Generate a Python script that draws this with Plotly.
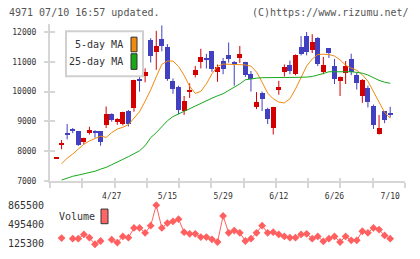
import plotly.graph_objects as go
import numpy as np

# ---------------- data ----------------
dates = ["4/13","4/14","4/15","4/16","4/17","4/20","4/21","4/22","4/23","4/24",
         "4/27","4/28","4/30","5/1","5/7","5/8","5/11","5/12","5/13","5/14",
         "5/15","5/18","5/19","5/20","5/21","5/22","5/25","5/26","5/27","5/28",
         "5/29","6/1","6/2","6/3","6/4","6/5","6/8","6/9","6/10","6/11",
         "6/12","6/15","6/16","6/17","6/18","6/19","6/22","6/23","6/24","6/25",
         "6/26","6/29","6/30","7/1","7/2","7/3","7/6","7/7","7/8","7/9","7/10"]

open_ = [7740, 8200, 8570, 8700, 8645, 8283, 8580, 8650, 8645, 8852,
         9247, 8964, 8885, 9325, 9435, 10420, 10497, 11721, 11306, 11770,
         11500, 10356, 10125, 9345, 9985, 10553, 10974, 11090, 11359, 10642,
         11030, 11211, 10958, 11113, 10970, 10586, 9457, 9928, 9402, 8756,
         10037, 10662, 10882, 10564, 11500, 11869, 11380, 11800, 10662, 11464,
         10849, 10333, 10619, 11080, 10553, 9840, 10092, 9490, 8556, 9325, 9280]
high = [7760, 8370, 8908, 8776, 8668, 8450, 8820, 8700, 8670, 9500,
        9270, 9106, 9325, 9380, 10400, 10590, 10784, 11800, 12050, 12230,
        11600, 10444, 10200, 9853, 10280, 10860, 11441, 11270, 11370, 10915,
        11135, 11655, 11030, 11540, 11004, 10695, 9984, 10004, 9457, 9490,
        10366, 10915, 11047, 11255, 11870, 12010, 11935, 11835, 11168, 11470,
        11102, 10511, 11030, 11277, 10642, 10421, 10202, 9566, 9214, 9346, 9490]
low = [7740, 8060, 8392, 8602, 8174, 8227, 8556, 8450, 8180, 8776,
       8990, 8885, 8865, 8830, 9325, 10000, 10313, 10980, 10734, 11359,
       10366, 9928, 9237, 9215, 9787, 10478, 10783, 10780, 10668, 10333,
       10586, 10977, 10200, 10970, 10497, 10004, 9412, 9346, 8908, 8556,
       9895, 10510, 10586, 10553, 11220, 11223, 11300, 10860, 10586, 11135,
       10257, 9853, 10257, 10553, 10070, 9622, 9467, 8743, 8556, 8940, 9128]
close = [7760, 8267, 8550, 8680, 8194, 8415, 8690, 8610, 8306, 9247,
         9017, 9073, 9303, 8885, 10390, 10340, 10641, 11174, 11523, 11523,
         10421, 10070, 9378, 9655, 10037, 10718, 11149, 11070, 10734, 10806,
         10734, 11080, 10920, 11245, 10553, 10398, 9632, 9742, 9050, 9457,
         10125, 10806, 10695, 11211, 11255, 11321, 11660, 10900, 10882, 11277,
         10399, 10478, 10849, 10662, 10290, 10366, 9622, 8852, 8776, 9017, 9210]

ma5 = [None, 7573, 7760, 7900, 8060, 8230, 8340, 8430, 8500, 8460,
       8620, 8740, 8800, 8890, 9105, 9325, 9680, 10060, 10500, 10920,
       11030, 11030, 10850, 10550, 10180, 9940, 10010, 10260, 10600, 10850,
       10930, 10920, 10920, 10920, 10900, 10860, 10660, 10320, 9950, 9760,
       9650, 9620, 9760, 10090, 10500, 10860, 11100, 11250, 11260, 11250,
       11200, 11070, 10890, 10790, 10720, 10570, 10350, 10000, 9600, 9300, 9105]
ma25 = [None, 7023, 7100, 7150, 7190, 7225, 7270, 7320, 7390, 7450,
        7540, 7640, 7720, 7810, 7900, 8010, 8180, 8450, 8620, 8830,
        9020, 9160, 9250, 9340, 9440, 9520, 9620, 9710, 9780, 9860,
        9930, 10040, 10150, 10260, 10400, 10440, 10454, 10470, 10477, 10477,
        10477, 10477, 10477, 10477, 10477, 10490, 10510, 10550, 10610, 10670,
        10675, 10675, 10675, 10670, 10650, 10620, 10560, 10470, 10380, 10320, 10280]

volume = [None, 238000, None, 226750, 226750, 307500, 245500, 119700, 181700, None,
          208000, 151600, 270000, 245500, 433400, 433400, 339500, 476600, 871100, 433400,
          527300, 557400, 602500, 350700, 320700, 320700, 256800, 256800, 213600, 162900,
          664500, 339500, 382700, 339500, 181700, 226750, 339500, 476600, 339500, 350700,
          307500, 270000, 245500, 245500, 307500, 320700, 226750, 270000, 176000, 226750,
          270000, 162900, 270000, 194800, 194800, 369500, 339500, 433400, 401500, 288700, 226750]

price_ticks = [7000, 8000, 9000, 10000, 11000, 12000]
vol_ticks = [125300, 495400, 865500]
date_ticks = ["4/27", "5/15", "5/29", "6/12", "6/26", "7/10"]

title_text = "4971 07/10 16:57 updated."
credit_text = "(C)https://www.rizumu.net/"
ma_names = ["5-day MA", "25-day MA"]
vol_name = "Volume"

# ---------------- styling ----------------
W, H = 420, 259
RED = "#d40000"
BLUE = "#4040c0"
ORANGE = "#f08a10"
GREEN = "#18a818"
VOLC = "#ff5f5f"
AX = "#d6d6d6"
TXT = "#333333"
FONT = "DejaVu Sans Mono"

def fx(p):
    return p / W

def fy(p):
    return 1 - p / H

x = list(range(len(dates)))
XR = [-1.08, 62.66]
YR = [7000, 12263]
VR = [44500, 946300]

fig = go.Figure()

# wicks
for col, up in ((RED, True), (BLUE, False)):
    wx, wy = [], []
    for i in x:
        if (close[i] >= open_[i]) == up:
            wx += [i, i, None]
            wy += [low[i], high[i], None]
    fig.add_trace(go.Scatter(x=wx, y=wy, mode="lines",
                             line=dict(color=col, width=1), hoverinfo="skip"))

# bodies
for col, up in ((RED, True), (BLUE, False)):
    bx, bb, bh = [], [], []
    for i in x:
        if (close[i] >= open_[i]) == up:
            bx.append(i)
            bb.append(min(open_[i], close[i]))
            bh.append(max(abs(close[i] - open_[i]), 40))
    fig.add_trace(go.Bar(x=bx, y=bh, base=bb, width=0.9,
                         marker=dict(color=col, line=dict(width=0))))

fig.add_trace(go.Scatter(x=x, y=ma5, mode="lines", line=dict(color=ORANGE, width=1)))
fig.add_trace(go.Scatter(x=x, y=ma25, mode="lines", line=dict(color=GREEN, width=1)))

fig.add_trace(go.Scatter(x=x, y=volume, mode="lines+markers", xaxis="x2", yaxis="y2",
                         connectgaps=False,
                         line=dict(color=VOLC, width=1),
                         marker=dict(symbol="diamond", size=6, color=VOLC)))

grid = list(np.linspace(XR[0], XR[1], 12))

fig.update_layout(
    width=W, height=H, margin=dict(l=0, r=0, t=0, b=0),
    paper_bgcolor="white", plot_bgcolor="white", showlegend=False,
    barmode="overlay", bargap=0,
    xaxis=dict(domain=[fx(50), fx(405)], range=XR, anchor="y",
               showline=True, linecolor=AX, linewidth=2, showgrid=False, zeroline=False,
               tickmode="array", tickvals=grid, ticks="outside", ticklen=5, tickwidth=2,
               tickcolor=AX, showticklabels=False),
    xaxis3=dict(range=XR, overlaying="x", anchor="y", side="bottom",
                showline=False, showgrid=False, zeroline=False,
                tickmode="array", tickvals=[dates.index(d) for d in date_ticks],
                ticktext=date_ticks, ticks="", ticklabelstandoff=9,
                tickfont=dict(family=FONT, size=8, color=TXT)),
    xaxis4=dict(range=XR, overlaying="x", anchor="y", side="bottom",
                showline=False, showgrid=False, zeroline=False,
                tickmode="array", tickvals=grid, ticks="inside", ticklen=3, tickwidth=2,
                tickcolor=AX, showticklabels=False),
    yaxis=dict(domain=[fy(184), fy(24)], range=YR, anchor="x",
               showline=True, linecolor=AX, linewidth=2, showgrid=False, zeroline=False,
               tickmode="array", tickvals=price_ticks,
               ticktext=[str(v) for v in price_ticks], ticks="outside", ticklen=4,
               tickwidth=2, tickcolor=AX, ticklabelstandoff=6,
               tickfont=dict(family=FONT, size=8, color=TXT)),
    yaxis3=dict(range=YR, overlaying="y", anchor="x", side="left",
                showline=False, showgrid=False, zeroline=False,
                tickmode="array", tickvals=price_ticks, ticks="inside", ticklen=5,
                tickwidth=2, tickcolor=AX, showticklabels=False),
    xaxis2=dict(domain=[fx(50), fx(405)], range=XR, anchor="y2", visible=False),
    yaxis2=dict(domain=[fy(253), fy(205)], range=VR, anchor="x2",
                showline=False, showgrid=False, zeroline=False,
                tickmode="array", tickvals=vol_ticks,
                ticktext=[str(v) for v in vol_ticks], ticks="", ticklabelstandoff=5,
                tickfont=dict(family=FONT, size=10, color=TXT)),
)

# invisible traces so overlay axes are drawn
fig.add_trace(go.Scatter(x=[XR[0]], y=[YR[0]], xaxis="x3", yaxis="y3", mode="markers",
                         marker=dict(opacity=0), hoverinfo="skip"))
fig.add_trace(go.Scatter(x=[XR[0]], y=[YR[0]], xaxis="x4", yaxis="y", mode="markers",
                         marker=dict(opacity=0), hoverinfo="skip"))

shapes = [
    dict(type="rect", xref="paper", yref="paper", x0=fx(66), x1=fx(143), y0=fy(77), y1=fy(31),
         line=dict(color="#d0d0d0", width=2), fillcolor="white", layer="above"),
    dict(type="rect", xref="paper", yref="paper", x0=fx(131), x1=fx(137), y0=fy(52), y1=fy(37),
         line=dict(color="#333", width=1), fillcolor=ORANGE, layer="above"),
    dict(type="rect", xref="paper", yref="paper", x0=fx(131), x1=fx(137), y0=fy(70), y1=fy(54),
         line=dict(color="#333", width=1), fillcolor=GREEN, layer="above"),
    dict(type="rect", xref="paper", yref="paper", x0=fx(101), x1=fx(108), y0=fy(228), y1=fy(213),
         line=dict(color="#333", width=1), fillcolor="#ff6666", layer="above"),
]
fig.update_layout(shapes=shapes)

def ann(text, px, py, anchor, size=10, color=TXT):
    fig.add_annotation(text=text, xref="paper", yref="paper", x=fx(px), y=fy(py),
                       xanchor=anchor, yanchor="middle", showarrow=False,
                       font=dict(family=FONT, size=size, color=color))

ann(title_text, 7, 12, "left", 10, "#555")
ann(credit_text, 411, 12, "right", 10, "#555")
ann(ma_names[0], 125, 45, "right")
ann(ma_names[1], 125, 62, "right")
ann(vol_name, 57, 221, "left")

fig.write_html("out.html")
